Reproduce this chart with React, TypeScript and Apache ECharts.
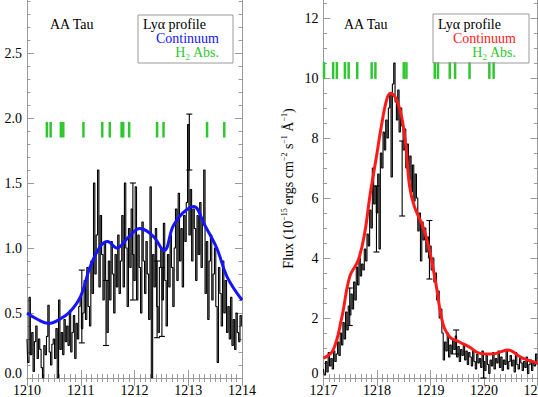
import React, { useEffect, useRef } from 'react';
import * as echarts from 'echarts';

// ---------- data ----------
const leftStart = 1210.0;
const rightStart = 1217.0;
const sampleStep = 0.025;

const leftFlux = [
  0.30, 0.12, 0.62, 0.18, 0.35, 0.05, 0.28, 0.40, 0.15, 0.30,
  0.22, 0.08, 0.00, 0.25, 0.18, 0.32, 0.56, 0.20, 0.10, 0.26,
  0.30, 0.15, 0.38, 0.00, 0.60, 0.22, 0.35, 0.18, 0.45, 0.28,
  0.40, 0.25, 0.52, 0.20, 0.35, 0.48, 0.15, 0.42, 0.30, 0.55,
  0.62, 0.38, 0.50, 0.75, 0.45, 0.85, 0.55, 0.40, 0.90, 0.65,
  1.50, 0.80, 1.10, 1.60, 0.70, 1.25, 0.95, 0.60, 1.05, 0.75,
  0.35, 0.90, 0.60, 1.05, 0.80, 0.50, 0.95, 0.70, 1.10, 0.65,
  0.90, 1.25, 0.70, 1.50, 1.00, 0.55, 1.15, 0.85, 1.30, 0.95,
  0.75, 1.47, 0.60, 1.10, 0.85, 0.50, 1.20, 0.90, 0.65, 1.05,
  0.80, 0.45, 1.47, 0.00, 0.95, 0.70, 1.15, 0.55, 0.35, 0.85,
  1.00, 0.60, 1.19, 0.75, 0.40, 0.95, 0.70, 1.10, 0.85, 0.55,
  1.00, 1.30, 0.75, 1.42, 0.90, 1.15, 0.70, 1.25, 1.05, 1.35,
  1.95, 1.10, 1.45, 0.90, 1.30, 1.15, 0.75, 1.25, 0.95, 1.35,
  0.85, 1.20, 1.60, 0.65, 1.05, 0.45, 0.90, 1.10, 0.60, 0.80,
  1.00, 0.55, 0.12, 0.85, 0.65, 0.40, 0.90, 0.50, 0.75, 0.35,
  0.55, 0.30, 0.62, 0.25, 0.45, 0.22, 0.50, 0.35, 0.28, 0.48,
  0.40,
];

const rightFlux = [
  0.30, 0.10, 0.55, 0.20, 0.85, 0.40, 0.65, 0.30, 0.90, 0.55,
  0.80, 1.20, 0.75, 1.50, 1.10, 1.85, 1.30, 2.20, 1.60, 2.40,
  2.10, 2.80, 2.30, 3.20, 2.60, 3.70, 3.10, 4.00, 3.40, 3.80,
  3.60, 4.30, 3.90, 4.80, 4.40, 5.60, 5.00, 7.00, 5.80, 6.40,
  5.50, 6.80, 4.30, 7.50, 7.00, 8.20, 7.60, 8.60, 8.00, 9.00,
  9.50, 6.70, 9.80, 10.50, 9.20, 8.60, 9.60, 8.20, 9.00, 8.40,
  7.60, 8.30, 7.00, 7.80, 6.60, 7.40, 6.20, 7.10, 5.90, 6.80,
  6.00, 4.90, 5.50, 3.90, 5.20, 4.60, 5.00, 4.20, 4.70, 4.00,
  4.40, 3.60, 4.00, 3.20, 3.50, 2.60, 2.90, 2.00, 2.30, 1.50,
  0.60, 1.20, 0.90, 1.50, 0.70, 1.10, 0.80, 1.30, 0.95, 1.40,
  0.70, 1.05, 0.55, 0.95, 0.75, 1.15, 0.60, 0.90, 0.45, 0.85,
  0.70, 0.40, 0.95, 0.55, 0.30, 0.80, 0.50, 0.65, 0.35, 0.90,
  0.55, 0.25, 0.75, 0.45, 0.15, 0.60, 0.40, 0.85, 0.30, 0.65,
  0.50, 0.90, 0.35, 0.70, 0.25, 0.60, 0.45, 0.95, 0.30, 0.55,
  0.75, 0.40, 0.60, 0.20, 0.85, 0.45, 0.30, 0.65, 0.50, 0.25,
  0.55, 0.35, 0.70, 0.15, 0.45, 0.60, 0.25, 0.50, 0.40, 0.80,
  0.45,
];

const contLeftX = [1210.0, 1210.2, 1210.4, 1210.6, 1210.8, 1211.0, 1211.17, 1211.36, 1211.5, 1211.67, 1211.88, 1212.1, 1212.35, 1212.55, 1212.72, 1212.9, 1213.1, 1213.3, 1213.53, 1213.72, 1214.0];
const contLeftY = [0.50, 0.45, 0.42, 0.45, 0.51, 0.63, 0.85, 1.01, 1.05, 1.00, 1.08, 1.15, 1.09, 0.98, 1.17, 1.27, 1.32, 1.18, 1.00, 0.78, 0.60];

const contRightX = [1217.0, 1217.18, 1217.34, 1217.49, 1217.65, 1217.77, 1217.87, 1217.99, 1218.08, 1218.18, 1218.25, 1218.35, 1218.46, 1218.54, 1218.61, 1218.7, 1218.86, 1218.98, 1219.1, 1219.23, 1219.36, 1219.54, 1219.73, 1219.91, 1220.1, 1220.23, 1220.44, 1220.72, 1221.0];
const contRightY = [0.66, 0.93, 2.0, 3.38, 3.93, 4.83, 6.1, 7.38, 8.38, 9.27, 9.49, 9.33, 8.71, 7.71, 6.38, 5.71, 5.04, 4.27, 3.15, 1.83, 1.37, 1.2, 1.03, 0.83, 0.80, 0.82, 0.93, 0.66, 0.50];

const h2Left = [1210.37, 1210.44, 1210.63, 1210.675, 1211.05, 1211.40, 1211.54, 1211.76, 1211.79, 1211.90, 1212.42, 1212.54, 1213.35, 1213.67];
const h2Right = [1217.01, 1217.18, 1217.25, 1217.40, 1217.47, 1217.63, 1217.90, 1217.97, 1218.50, 1218.55, 1219.08, 1219.14, 1219.36, 1219.46, 1219.73, 1220.10, 1220.18];
const h2LeftRange = [1.85, 1.97];
const h2RightRange = [9.97, 10.53];

const errLeftX = [1211.02, 1211.47, 1211.97, 1212.42, 1212.51, 1213.02];
const errLeftLo = [0.27, 0.25, 0.60, 0.31, 0.32, 1.60];
const errLeftHi = [0.83, 0.75, 1.50, 0.90, 0.85, 2.03];

const errRightX = [1217.49, 1217.99, 1218.47, 1218.98, 1219.48, 1219.99];
const errRightLo = [1.75, 4.20, 5.40, 3.30, 0.80, 0.00];
const errRightHi = [3.00, 6.40, 7.90, 5.25, 1.60, 0.80];

// ---------- styles ----------
const FONT = '"Liberation Serif", "Times New Roman", serif';
const FRAME = '#9a9a9a';
const GREEN = '#2ec72e';

function spectrum(start: number, values: number[]) {
  return values.map((v, i) => [+(start + i * sampleStep).toFixed(3), v]);
}

function xAxes(gridIndex: number, min: number, max: number) {
  const base = {
    gridIndex, type: 'value', min, max, interval: 1,
    axisLine: { show: true, lineStyle: { color: FRAME, width: 1 } },
    axisTick: { show: true, inside: true, length: 8, lineStyle: { color: FRAME } },
    minorTick: { show: true, splitNumber: 10, length: 4, lineStyle: { color: FRAME } },
    splitLine: { show: false },
    minorSplitLine: { show: false },
  };
  return [
    { ...base, position: 'bottom',
      axisLabel: { show: true, color: '#000', fontFamily: FONT, fontSize: 14, margin: 5, hideOverlap: false, formatter: (v: number) => String(v) } },
    { ...base, position: 'top', axisLabel: { show: false } },
  ];
}

function yAxes(gridIndex: number, max: number, interval: number, minorSplit: number, fmt: (v: number) => string, name?: any) {
  const base = {
    gridIndex, type: 'value', min: 0, max, interval,
    axisLine: { show: true, lineStyle: { color: FRAME, width: 1 } },
    axisTick: { show: true, inside: true, length: 7, lineStyle: { color: FRAME } },
    minorTick: { show: true, splitNumber: minorSplit, length: 3.5, lineStyle: { color: FRAME } },
    splitLine: { show: false },
    minorSplitLine: { show: false },
  };
  return [
    { ...base, position: 'left',
      axisLabel: {
        show: true, color: '#000', fontFamily: FONT, fontSize: 14, margin: 5, showMaxLabel: false,
        formatter: (v: number) => (v === 0 ? `{z|${fmt(v)}}` : fmt(v)),
        rich: { z: { fontFamily: FONT, fontSize: 14, color: '#000', padding: [0, 0, 10, 0] } },
      },
      ...(name || {}) },
    { ...base, position: 'right', axisLabel: { show: false } },
  ];
}

function errorSeries(xAxisIndex: number, yAxisIndex: number, xs: number[], lo: number[], hi: number[]) {
  return {
    type: 'custom', xAxisIndex, yAxisIndex, silent: true, z: 3,
    data: xs.map((x, i) => [x, lo[i], hi[i]]),
    renderItem: (params: any, api: any) => {
      const pLo = api.coord([api.value(0), api.value(1)]);
      const pHi = api.coord([api.value(0), api.value(2)]);
      const c = 3;
      const st = { stroke: '#000', lineWidth: 1.1 };
      return {
        type: 'group',
        children: [
          { type: 'line', shape: { x1: pLo[0], y1: pLo[1], x2: pHi[0], y2: pHi[1] }, style: st },
          { type: 'line', shape: { x1: pLo[0] - c, y1: pLo[1], x2: pLo[0] + c, y2: pLo[1] }, style: st },
          { type: 'line', shape: { x1: pHi[0] - c, y1: pHi[1], x2: pHi[0] + c, y2: pHi[1] }, style: st },
        ],
      };
    },
  };
}

function h2Series(xAxisIndex: number, yAxisIndex: number, xs: number[], range: number[]) {
  return {
    type: 'custom', xAxisIndex, yAxisIndex, silent: true, z: 4,
    data: xs.map((x) => [x, range[0], range[1]]),
    renderItem: (params: any, api: any) => {
      const p1 = api.coord([api.value(0), api.value(1)]);
      const p2 = api.coord([api.value(0), api.value(2)]);
      return {
        type: 'line',
        shape: { x1: p1[0], y1: p1[1], x2: p2[0], y2: p2[1] },
        style: { stroke: GREEN, lineWidth: 2.5 },
      };
    },
  };
}

function legendGraphics(boxX: number, boxY: number, boxW: number, boxH: number, lyaX: number, rightX: number, contColor: string, titleX: number) {
  const font = `14px ${FONT}`;
  return [
    { type: 'rect', shape: { x: boxX, y: boxY, width: boxW, height: boxH }, style: { fill: 'none', stroke: FRAME, lineWidth: 1 }, z: 10 },
    { type: 'text', x: lyaX, y: 24, style: { text: 'Lyα profile', font, fill: '#000', textAlign: 'left', textVerticalAlign: 'middle' }, z: 10 },
    { type: 'text', x: rightX, y: 38, style: { text: 'Continuum', font, fill: contColor, textAlign: 'right', textVerticalAlign: 'middle' }, z: 10 },
    { type: 'text', x: rightX, y: 52, style: { text: 'H₂ Abs.', font, fill: GREEN, textAlign: 'right', textVerticalAlign: 'middle' }, z: 10 },
    { type: 'text', x: titleX, y: 24, style: { text: 'AA Tau', font, fill: '#000', textAlign: 'left', textVerticalAlign: 'middle' }, z: 10 },
  ];
}

export default function App() {
  const ref = useRef<HTMLDivElement>(null);

  useEffect(() => {
    if (!ref.current) return;
    const chart = echarts.init(ref.current, undefined, { renderer: 'svg' });

    const yName = {
      name: '{a|Flux (10}{s|−15}{a| ergs cm}{s|−2}{a| s}{s|−1}{a| Å}{s|−1}{a|)}',
      nameLocation: 'middle',
      nameGap: 27,
      nameRotate: 90,
      nameTextStyle: {
        color: '#000',
        rich: {
          a: { fontFamily: FONT, fontSize: 14, color: '#000', lineHeight: 16 },
          s: { fontFamily: FONT, fontSize: 8, color: '#000', verticalAlign: 'top', lineHeight: 16 },
        },
      },
    };

    const option: any = {
      animation: false,
      backgroundColor: '#fff',
      grid: [
        { left: 27, top: -1, width: 215, height: 379, containLabel: false, outerBoundsMode: 'none' },
        { left: 323.5, top: -1, width: 214, height: 379, containLabel: false, outerBoundsMode: 'none' },
      ],
      xAxis: [...xAxes(0, 1210, 1214), ...xAxes(1, 1217, 1221)],
      yAxis: [
        ...yAxes(0, 379 / 130, 0.5, 5, (v: number) => v.toFixed(1)),
        ...yAxes(1, 379 / 30, 2, 4, (v: number) => String(Math.round(v)), yName),
      ],
      graphic: [
        ...legendGraphics(138, 15, 95, 48, 143, 219, '#1414ff', 50),
        ...legendGraphics(433, 14, 96, 49, 438, 516, '#ff1a1a', 344),
      ],
      series: [
        {
          type: 'line', xAxisIndex: 0, yAxisIndex: 0, step: 'middle', symbol: 'none', z: 2,
          data: spectrum(leftStart, leftFlux),
          lineStyle: { color: '#000', width: 1.1 },
        },
        errorSeries(0, 0, errLeftX, errLeftLo, errLeftHi),
        {
          type: 'line', xAxisIndex: 0, yAxisIndex: 0, smooth: 0.4, symbol: 'none', z: 5,
          data: contLeftX.map((x, i) => [x, contLeftY[i]]),
          lineStyle: { color: '#1414ff', width: 3 },
        },
        h2Series(0, 0, h2Left, h2LeftRange),
        {
          type: 'line', xAxisIndex: 2, yAxisIndex: 2, step: 'middle', symbol: 'none', z: 2,
          data: spectrum(rightStart, rightFlux),
          lineStyle: { color: '#000', width: 1.1 },
        },
        errorSeries(2, 2, errRightX, errRightLo, errRightHi),
        {
          type: 'line', xAxisIndex: 2, yAxisIndex: 2, smooth: 0.4, symbol: 'none', z: 5,
          data: contRightX.map((x, i) => [x, contRightY[i]]),
          lineStyle: { color: '#ff1a1a', width: 3 },
        },
        h2Series(2, 2, h2Right, h2RightRange),
      ],
    };

    chart.setOption(option);
    return () => chart.dispose();
  }, []);

  return (
    <div
      ref={ref}
      style={{ position: 'fixed', left: 0, top: 0, width: 538, height: 397, background: '#fff' }}
    />
  );
}
